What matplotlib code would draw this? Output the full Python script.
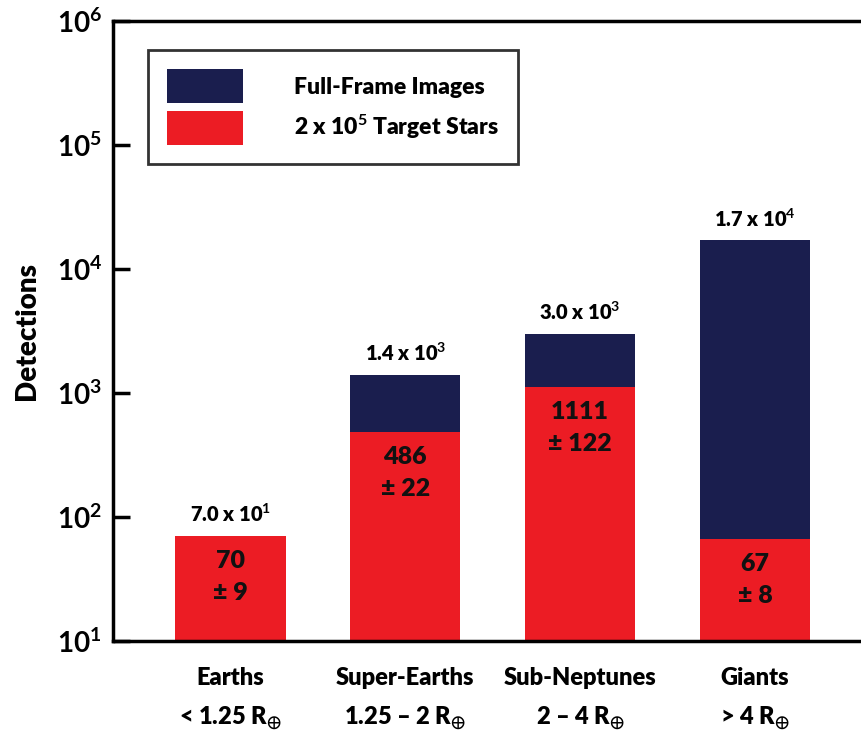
import matplotlib
matplotlib.use("Agg")
import matplotlib.pyplot as plt
from matplotlib.patches import Patch
from matplotlib.ticker import LogLocator, FuncFormatter, NullLocator
import numpy as np

plt.rcParams['font.family'] = ['Lato', 'DejaVu Sans']
plt.rcParams['font.weight'] = 'bold'
plt.rcParams['mathtext.fontset'] = 'custom'
plt.rcParams['mathtext.rm'] = 'Lato:bold'
plt.rcParams['mathtext.it'] = 'Lato:bold'
plt.rcParams['mathtext.bf'] = 'Lato:bold'
plt.rcParams['mathtext.fallback'] = 'stix'

categories = ["Earths", "Super-Earths", "Sub-Neptunes", "Giants"]
ranges = [r"< 1.25 R$_{\oplus}$", r"1.25 – 2 R$_{\oplus}$", r"2 – 4 R$_{\oplus}$", r"> 4 R$_{\oplus}$"]
target_stars = [70, 486, 1111, 67]
target_err = [9, 22, 122, 8]
totals = [70, 1400, 3000, 17000]
total_labels = [r"7.0 x 10$^{1}$", r"1.4 x 10$^{3}$", r"3.0 x 10$^{3}$", r"1.7 x 10$^{4}$"]
series_names = ["Full-Frame Images", r"2 x 10$^{5}$ Target Stars"]

navy = "#1a1e4e"
red = "#ec1c24"
W = 'heavy'

fig = plt.figure(figsize=(8.61, 7.34), dpi=100)
ax = fig.add_axes([113/861, 1-641/734, 1-113/861, (641-21)/734])

x = np.arange(len(categories))
ffi = [t - r for t, r in zip(totals, target_stars)]
ymin = 10
ax.bar(x, [r - ymin for r in target_stars], bottom=ymin, width=0.63, color=red)
ax.bar(x, ffi, bottom=target_stars, width=0.63, color=navy)

ax.set_yscale('log')
ax.set_ylim(10, 1e6)
ax.set_xlim(-0.672, 3.607)

for xi, t, lab in zip(x, totals, total_labels):
    ax.annotate(lab, xy=(xi, t), xytext=(0, 10), textcoords='offset points',
                ha='center', va='baseline', fontsize=14.5, fontweight=W)
for xi, r, e in zip(x, target_stars, target_err):
    ax.annotate(f"{r}", xy=(xi, r), xytext=(0, -18), textcoords='offset points',
                ha='center', va='center', fontsize=18, fontweight=W, color='#111111')
    ax.annotate(f"± {e}", xy=(xi, r), xytext=(0, -41), textcoords='offset points',
                ha='center', va='center', fontsize=18, fontweight=W, color='#111111')

ax.yaxis.set_major_locator(LogLocator(base=10, numticks=10))
ax.yaxis.set_minor_locator(NullLocator())
ax.yaxis.set_major_formatter(FuncFormatter(lambda v, p: r"10$^{%d}$" % round(np.log10(v))))
ax.tick_params(axis='y', direction='in', length=12, width=2.5, labelsize=20, pad=8)

ax.set_xticks(x)
ax.set_xticklabels([f"{c}\n{r}" for c, r in zip(categories, ranges)], fontsize=17,
                   linespacing=1.75, fontweight=W)
ax.tick_params(axis='x', length=0, pad=19)

ax.set_ylabel("Detections", fontsize=20, fontweight=W, labelpad=12)

for s in ['left', 'top', 'bottom']:
    ax.spines[s].set_linewidth(2.5)
ax.spines['right'].set_visible(False)

handles = [Patch(facecolor=navy), Patch(facecolor=red)]
leg = ax.legend(handles, series_names, loc='upper left', bbox_to_anchor=(35/748, 1-29/620),
                prop={'size': 16.5, 'weight': W}, handlelength=3.3, handleheight=1.88,
                handletextpad=2.2, labelspacing=0.35, borderpad=0.85, borderaxespad=0,
                frameon=True, fancybox=False, edgecolor='black')
leg.get_frame().set_linewidth(2)

fig.savefig("out.png", dpi=100)
